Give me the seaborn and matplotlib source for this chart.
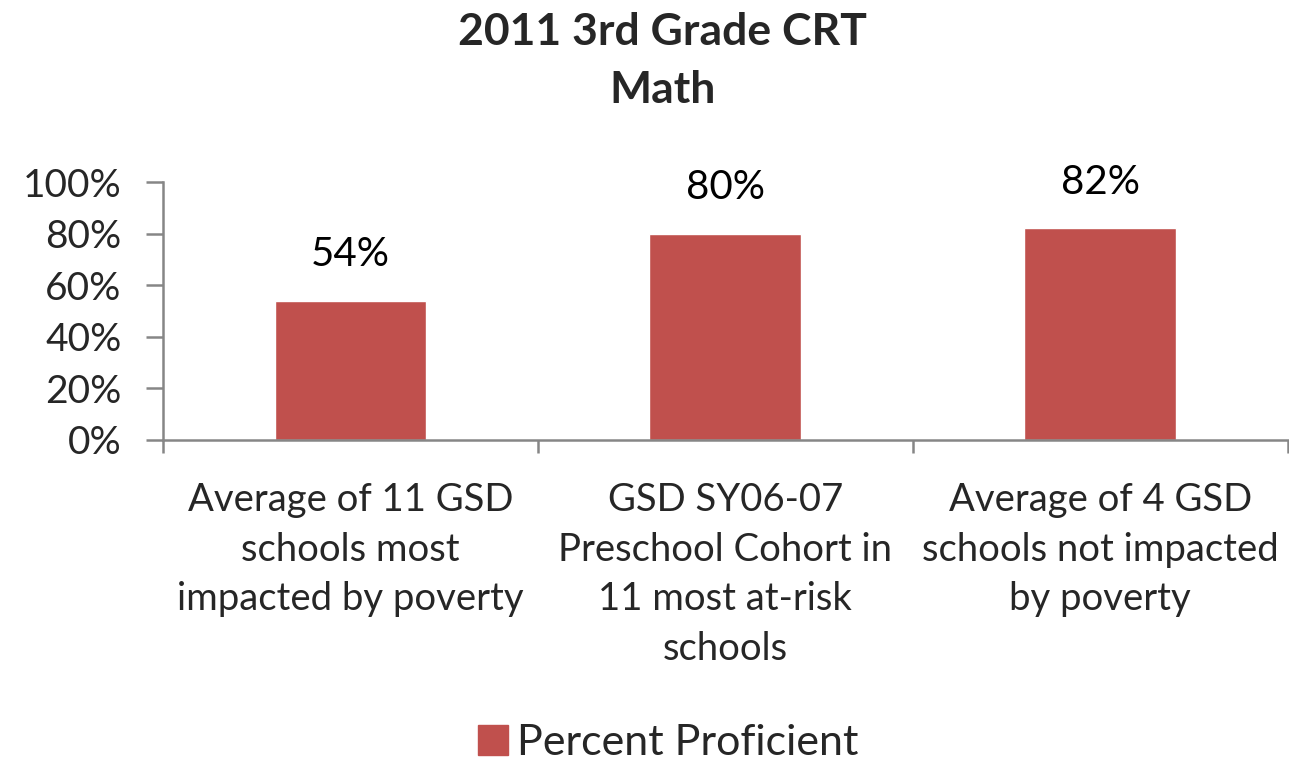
import matplotlib
matplotlib.use("Agg")
import matplotlib.pyplot as plt
import seaborn as sns
import pandas as pd
from matplotlib.ticker import PercentFormatter, FixedLocator
from matplotlib.patches import Patch

# data
categories = [
    "Average of 11 GSD\nschools most\nimpacted by poverty",
    "GSD SY06-07\nPreschool Cohort in\n11 most at-risk\nschools",
    "Average of 4 GSD\nschools not impacted\nby poverty",
]
values = [0.54, 0.80, 0.82]
series_name = "Percent Proficient"
title = "2011 3rd Grade CRT\nMath"

bar_color = "#C0504D"
axis_color = "#868686"

sns.set_style("white")
plt.rcParams["font.family"] = ["Lato", "DejaVu Sans"]

df = pd.DataFrame({"cat": categories, "val": values})

fig = plt.figure(figsize=(12.89, 7.70), dpi=100)
ax = fig.add_axes([0.1265, 0.4286, 0.8725, 0.335])

sns.barplot(data=df, x="cat", y="val", color=bar_color, width=0.405,
            saturation=1, ax=ax)

ax.set_ylim(0, 1)
ax.set_xlim(-0.5, 2.5)
ax.yaxis.set_major_locator(FixedLocator([0, 0.2, 0.4, 0.6, 0.8, 1.0]))
ax.yaxis.set_major_formatter(PercentFormatter(1.0, decimals=0))
ax.set_xlabel("")
ax.set_ylabel("")

# value labels
for i, v in enumerate(values):
    ax.annotate(f"{v:.0%}", (i, v), xytext=(0, 20), textcoords="offset points",
                ha="center", va="bottom", fontsize=29, color="black")

# spines and ticks
for s in ["top", "right"]:
    ax.spines[s].set_visible(False)
for s in ["left", "bottom"]:
    ax.spines[s].set_color(axis_color)
    ax.spines[s].set_linewidth(1.8)

ax.tick_params(axis="y", which="major", direction="out", length=12, width=1.8,
               color=axis_color, labelsize=28, pad=18, left=True)
ax.tick_params(axis="x", which="major", length=0, labelsize=27.5, pad=30)
ax.xaxis.set_minor_locator(FixedLocator([-0.5, 0.5, 1.5, 2.5]))
ax.tick_params(axis="x", which="minor", direction="out", length=9, width=1.8,
               color=axis_color, bottom=True)
for lbl in ax.get_xticklabels():
    lbl.set_linespacing(1.48)

fig.text(0.514, 0.985, title, ha="center", va="top", fontsize=32,
         fontweight="bold", linespacing=1.55)

fig.legend(handles=[Patch(color=bar_color, label=series_name)],
           loc="upper left", bbox_to_anchor=(0.371, 0.06), frameon=False,
           borderpad=0, borderaxespad=0, fontsize=31, handlelength=0.7,
           handleheight=0.7, handletextpad=0.2)

fig.savefig("out.png", dpi=100)
